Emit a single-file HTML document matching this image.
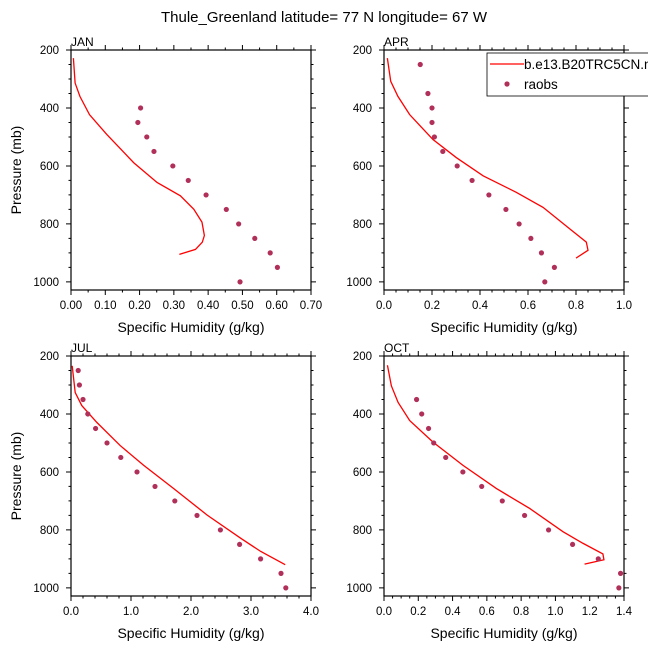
<!DOCTYPE html>
<html><head><meta charset="utf-8"><style>
html,body{margin:0;padding:0;background:#fff;width:648px;height:648px;overflow:hidden}
svg{display:block;font-family:"Liberation Sans",Arial,sans-serif}
</style></head><body>
<svg id="chart" width="648" height="648" viewBox="0 0 648 648">
<text x="324" y="22" text-anchor="middle" font-size="15" fill="#000">Thule_Greenland  latitude= 77 N longitude= 67 W</text>
</svg>
<script>
const jan_model_p=[228,314,360,423,491,589,657,703,749,794,840,863,888,905];
const jan_model_q=[0.007,0.012,0.026,0.054,0.104,0.183,0.251,0.319,0.358,0.382,0.389,0.383,0.363,0.316];
const jan_obs_p=[400,450,500,550,600,650,700,750,800,850,900,950,1000];
const jan_obs_q=[0.203,0.195,0.221,0.242,0.297,0.342,0.394,0.453,0.489,0.536,0.581,0.602,0.493];
const apr_model_p=[228,308,360,423,509,571,634,691,743,817,863,891,918];
const apr_model_q=[0.014,0.028,0.058,0.107,0.204,0.301,0.413,0.551,0.663,0.774,0.843,0.85,0.80];
const apr_obs_p=[250,350,400,450,500,550,600,650,700,750,800,850,900,950,1000];
const apr_obs_q=[0.151,0.183,0.2,0.2,0.21,0.245,0.305,0.367,0.437,0.508,0.563,0.612,0.656,0.71,0.67];
const jul_model_p=[234,326,371,429,509,577,657,749,829,874,920];
const jul_model_q=[0.02,0.07,0.18,0.43,0.82,1.21,1.71,2.27,2.83,3.16,3.57];
const jul_obs_p=[250,300,350,400,450,500,550,600,650,700,750,800,850,900,950,1000];
const jul_obs_q=[0.12,0.14,0.2,0.28,0.41,0.6,0.83,1.1,1.4,1.73,2.1,2.49,2.81,3.16,3.5,3.58];
const oct_model_p=[232,303,360,423,497,577,657,726,806,846,883,903,918];
const oct_model_q=[0.02,0.043,0.082,0.15,0.286,0.46,0.655,0.85,1.044,1.16,1.277,1.283,1.17];
const oct_obs_p=[350,400,450,500,550,600,650,700,750,800,850,900,950,1000];
const oct_obs_q=[0.19,0.22,0.26,0.29,0.36,0.46,0.57,0.69,0.82,0.96,1.1,1.25,1.38,1.37];
const xTicksJan=["0.00","0.10","0.20","0.30","0.40","0.50","0.60","0.70"];
const xTicksApr=["0.0","0.2","0.4","0.6","0.8","1.0"];
const xTicksJul=["0.0","1.0","2.0","3.0","4.0"];
const xTicksOct=["0.0","0.2","0.4","0.6","0.8","1.0","1.2","1.4"];
const yTicks=[200,400,600,800,1000];

const NS="http://www.w3.org/2000/svg";
const svg=document.getElementById('chart');
function mk(tag,attrs,parent){const e=document.createElementNS(NS,tag);for(const k in attrs)e.setAttribute(k,attrs[k]);(parent||svg).appendChild(e);return e;}

function panel(o){
  const g=mk('g',{});
  
  
  const W=240,H=240,x0=o.x,y0=o.y,pmin=200,pmax=1028;
  const sx=v=>x0+v/o.xmax*W;
  const sy=p=>y0+(p-pmin)/(pmax-pmin)*H;
  let d='';
  const nMin=Math.round(o.xmax/o.minor);
  for(let i=0;i<=nMin;i++){const v=i*o.minor;const maj=Math.abs(v/o.major-Math.round(v/o.major))<1e-6;const L=maj?5:2.5;const X=sx(v);
    d+=`M${X} ${y0+H}v${L}M${X} ${y0}v${-L}`;}
  for(let p=200;p<=1000;p+=50){const L=(p%200===0)?5:2.5;const Y=sy(p);d+=`M${x0} ${Y}h${-L}M${x0+W} ${Y}h${L}`;}
  const t=mk('path',{d:d,stroke:'#000','stroke-width':1,fill:'none'},g);
  
  
  const r=mk('rect',{x:x0,y:y0,width:W,height:H,fill:'none',stroke:'#000','stroke-width':1.2},g);
  
  
  o.xt.forEach((s,i)=>{const e=mk('text',{x:sx(i*o.major),y:y0+H+19,'text-anchor':'middle','font-size':11.5},g);e.textContent=s;
    
    });
  yTicks.forEach(p=>{const e=mk('text',{x:x0-12,y:sy(p)+4,'text-anchor':'end','font-size':11.5},g);e.textContent=p;
    
    });
  const xt=mk('text',{x:x0+W/2,y:y0+H+42,'text-anchor':'middle','font-size':14},g);xt.textContent='Specific Humidity (g/kg)';
  
  
  if(o.ytitle){const yt=mk('text',{x:0,y:0,'text-anchor':'middle','font-size':14,transform:`translate(${x0-50},${y0+H/2}) rotate(-90)`},g);yt.textContent='Pressure (mb)';
    
    }
  const lb=mk('text',{x:x0,y:y0-4,'font-size':12},g);lb.textContent=o.label;
  
  
  const pts=o.mp.map((p,i)=>sx(o.mq[i]).toFixed(2)+','+sy(p).toFixed(2)).join(' ');
  const ln=mk('polyline',{points:pts,fill:'none',stroke:'#ff0000','stroke-width':1.3},g);
  
  
  o.op.forEach((p,i)=>{const c=mk('circle',{cx:sx(o.oq[i]),cy:sy(p),r:2.6,fill:'#b0305a'},g);
    
    });
}
panel({name:'jan',label:'JAN',x:71,y:50,xmax:0.7,major:0.1,minor:0.05,xt:xTicksJan,mp:jan_model_p,mq:jan_model_q,op:jan_obs_p,oq:jan_obs_q,ytitle:true});
panel({name:'apr',label:'APR',x:384,y:50,xmax:1.0,major:0.2,minor:0.05,xt:xTicksApr,mp:apr_model_p,mq:apr_model_q,op:apr_obs_p,oq:apr_obs_q,ytitle:false});
panel({name:'jul',label:'JUL',x:71,y:356,xmax:4.0,major:1.0,minor:0.2,xt:xTicksJul,mp:jul_model_p,mq:jul_model_q,op:jul_obs_p,oq:jul_obs_q,ytitle:true});
panel({name:'oct',label:'OCT',x:384,y:356,xmax:1.4,major:0.2,minor:0.05,xt:xTicksOct,mp:oct_model_p,mq:oct_model_q,op:oct_obs_p,oq:oct_obs_q,ytitle:false});

const lg=mk('g',{});


mk('rect',{x:487,y:53,width:170,height:43,fill:'#fff',stroke:'#000','stroke-width':0.8},lg);
const l1=mk('line',{x1:490,y1:64,x2:524,y2:64,stroke:'#ff0000','stroke-width':1.3},lg);


const t1=mk('text',{x:524,y:69,'font-size':13.5},lg);t1.textContent='b.e13.B20TRC5CN.ne30';


const c1=mk('circle',{cx:507,cy:84,r:2.6,fill:'#b0305a'},lg);


const t2=mk('text',{x:524,y:89,'font-size':13.5},lg);t2.textContent='raobs';


</script>
</body></html>
